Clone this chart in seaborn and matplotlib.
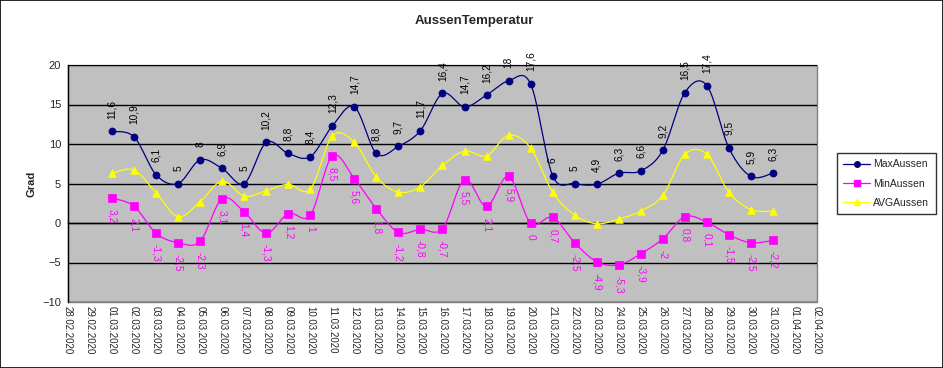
import numpy as np
import pandas as pd
import matplotlib
matplotlib.use("Agg")
import matplotlib.pyplot as plt
import seaborn as sns
from matplotlib.patches import Rectangle
from matplotlib.lines import Line2D

# ---- data -------------------------------------------------------------
tick_dates = pd.date_range("2020-02-28", "2020-04-02", freq="D")
tick_labels = [d.strftime("%d.%m.%Y") for d in tick_dates]
data_dates = pd.date_range("2020-03-01", "2020-03-31", freq="D")

max_aussen = [11.6, 10.9, 6.1, 5, 8, 6.9, 5, 10.2, 8.8, 8.4, 12.3, 14.7, 8.8, 9.7, 11.7,
              16.4, 14.7, 16.2, 18, 17.6, 6, 5, 4.9, 6.3, 6.6, 9.2, 16.5, 17.4, 9.5, 5.9, 6.3]
min_aussen = [3.2, 2.1, -1.3, -2.5, -2.3, 3.1, 1.4, -1.3, 1.2, 1, 8.5, 5.6, 1.8, -1.2, -0.8,
              -0.7, 5.5, 2.1, 5.9, 0, 0.7, -2.5, -4.9, -5.3, -3.9, -2, 0.8, 0.1, -1.5, -2.5, -2.2]
avg_aussen = [6.3, 6.7, 3.8, 0.8, 2.7, 5.3, 3.4, 4.1, 4.9, 4.3, 11.0, 10.2, 5.8, 3.9, 4.6,
              7.3, 9.1, 8.5, 11.1, 9.5, 3.9, 1.0, -0.1, 0.5, 1.5, 3.5, 8.7, 8.7, 3.9, 1.7, 1.5]

y_ticks = [-10, -5, 0, 5, 10, 15, 20]

# ---- helpers ----------------------------------------------------------
x_data = np.array([(d - tick_dates[0]).days for d in data_dates], dtype=float)
x_ticks = np.array([(d - tick_dates[0]).days for d in tick_dates], dtype=float)


def smooth(x, y, n=24):
    x = np.asarray(x, float)
    y = np.asarray(y, float)
    P = np.column_stack([x, y])
    out = []
    m = len(P)
    t = np.linspace(0, 1, n)[:, None]
    for i in range(m - 1):
        p0 = P[i - 1] if i > 0 else P[i]
        p1 = P[i]
        p2 = P[i + 1]
        p3 = P[i + 2] if i + 2 < m else P[i + 1]
        c1 = p1 + (p2 - p0) / 6.0
        c2 = p2 - (p3 - p1) / 6.0
        seg = ((1 - t) ** 3) * p1 + 3 * ((1 - t) ** 2) * t * c1 + 3 * (1 - t) * t ** 2 * c2 + t ** 3 * p2
        out.append(seg if i == 0 else seg[1:])
    s = np.vstack(out)
    return s[:, 0], s[:, 1]


def fmt(v):
    s = f"{v:g}"
    return s.replace(".", ",")


# ---- figure -----------------------------------------------------------
sns.set_style("white")
plt.rcParams["font.family"] = ["Liberation Sans", "DejaVu Sans"]

fig = plt.figure(figsize=(9.43, 3.68), dpi=100)
fig.patch.set_facecolor("white")
ax = fig.add_axes([68 / 943, 1 - 302 / 368, (817 - 68) / 943, (302 - 65) / 368])
ax.set_facecolor("#C0C0C0")

series = [
    ("MaxAussen", max_aussen, "#000080", "o", 26),
    ("MinAussen", min_aussen, "#FF00FF", "s", 30),
    ("AVGAussen", avg_aussen, "#FFFF00", "^", 30),
]

for name, vals, col, mk, sz in series:
    xs, ys = smooth(x_data, vals)
    sns.lineplot(x=xs, y=ys, sort=False, estimator=None, color=col, lw=0.9, ax=ax, zorder=3)
    sns.scatterplot(x=x_data, y=vals, marker=mk, s=sz, color=col, edgecolor=col,
                    linewidth=0.5, ax=ax, zorder=4)

# data labels
for xv, v in zip(x_data, max_aussen):
    ax.annotate(fmt(v), (xv, v), xytext=(0, 9), textcoords="offset points",
                rotation=90, ha="center", va="bottom", fontsize=7.3, color="black", zorder=5)
for xv, v in zip(x_data, min_aussen):
    ax.annotate(fmt(v), (xv, v), xytext=(0, -8), textcoords="offset points",
                rotation=270, ha="center", va="top", fontsize=7.3, color="#FF00FF", zorder=5)

ax.set_xlim(x_ticks[0], x_ticks[-1])
ax.set_ylim(-10, 20)
ax.set_yticks(y_ticks)
ax.yaxis.grid(True, color="black", lw=1.0)
ax.xaxis.grid(False)
ax.set_axisbelow(True)

# spines: y axis black, x axis line at 0 with ticks, border gray
for s in ["top", "right"]:
    ax.spines[s].set_visible(False)
ax.spines["left"].set_color("black")
ax.spines["left"].set_linewidth(1.0)
ax.spines["bottom"].set_position(("data", 0))
ax.spines["bottom"].set_color("black")
ax.spines["bottom"].set_linewidth(1.0)
ax.set_xticks(x_ticks)
ax.tick_params(axis="x", direction="out", length=3, width=1, color="black", labelbottom=False)
ax.tick_params(axis="y", direction="out", length=3, width=1, color="black", labelsize=8, pad=2)
ax.set_xlabel("")
ax.set_ylabel("Grad", fontsize=8, fontweight="bold", labelpad=4)

border = Rectangle((0, 0), 1, 1, transform=ax.transAxes, fill=False, edgecolor="#808080",
                   lw=1.0, zorder=0.5, clip_on=False)
ax.add_patch(border)

sec = ax.secondary_xaxis("bottom")
sec.set_xticks(x_ticks)
sec.set_xticklabels(tick_labels, rotation=270, fontsize=7)
sec.tick_params(length=0, pad=3)
sec.spines["bottom"].set_visible(False)

fig.text(0.503, 0.942, "AussenTemperatur", ha="center", va="center", fontsize=9.5,
         fontweight="bold")

handles = [Line2D([0], [0], color=c, lw=0.9, marker=m, markersize=4, markerfacecolor=c,
                  markeredgecolor=c) for _, _, c, m, _ in series]
leg = fig.legend(handles, [n for n, *_ in series], loc="upper left",
                 bbox_to_anchor=(837 / 943, 1 - 153 / 368), fontsize=7.5, frameon=True,
                 fancybox=False, edgecolor="black", borderpad=0.6, labelspacing=0.9,
                 handlelength=2.6, handletextpad=0.3, borderaxespad=0)
leg.get_frame().set_linewidth(1.0)

fig.patches.append(Rectangle((0.0005, 0.001), 0.999, 0.998, transform=fig.transFigure,
                             fill=False, edgecolor="black", lw=1.2))

fig.savefig("out.png", dpi=100)
